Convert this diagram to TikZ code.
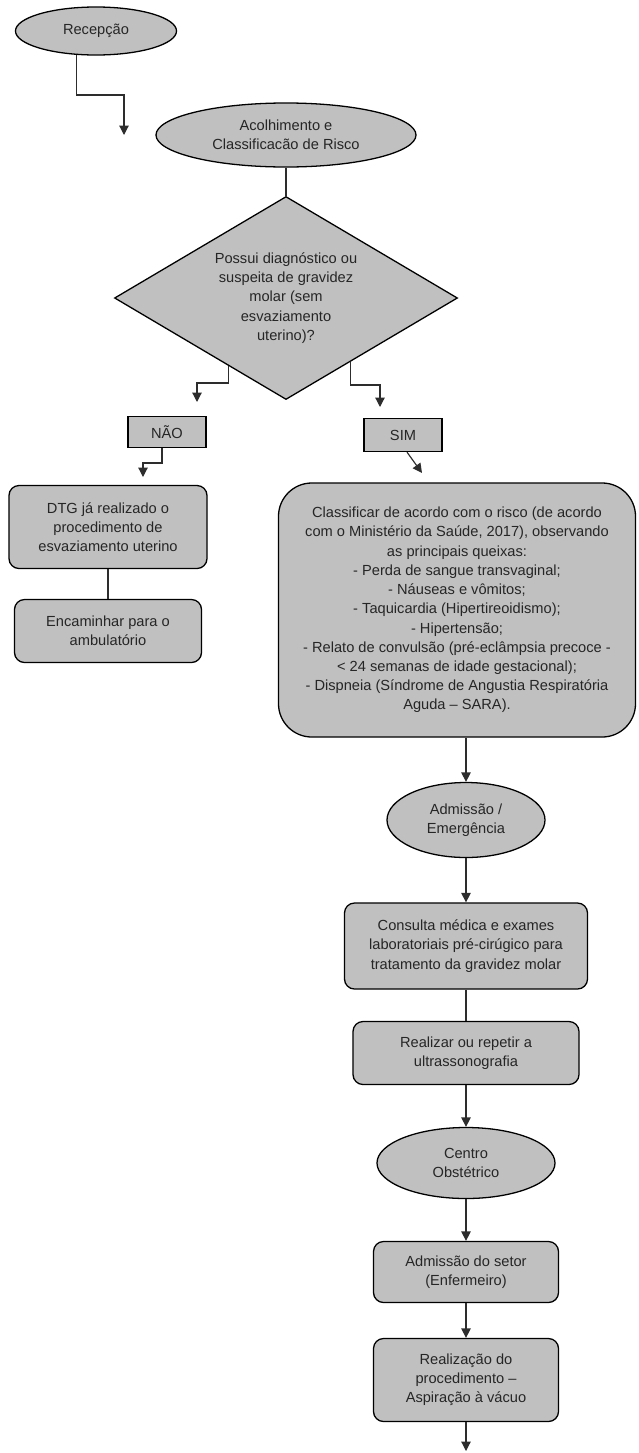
\documentclass[tikz,border=0pt]{standalone}
\usepackage{fontspec}
\setmainfont{Liberation Sans}
\usetikzlibrary{shapes.geometric,arrows.meta}
\definecolor{boxgray}{RGB}{192,192,192}
\definecolor{linegray}{RGB}{45,45,45}

\begin{document}
\begin{tikzpicture}[x=0.03cm,y=-0.03cm,
		>={Triangle[width=8pt,length=8pt]},
		every node/.style={font=\fontsize{12.5}{16.4}\selectfont,text=black!85,align=center},
		oval/.style={ellipse,draw,fill=boxgray,line width=1.1pt,inner sep=0pt},
		caixa/.style={rectangle,rounded corners=0.3cm,draw,fill=boxgray,line width=1.1pt,inner sep=0pt},
		rotulo/.style={rectangle,draw,fill=boxgray,line width=1.1pt,inner sep=0pt},
		decisao/.style={diamond,aspect=1.69,draw,fill=boxgray,line width=1.1pt,inner sep=0pt},
		seta/.style={line width=1pt,draw=linegray}]
			\useasboundingbox (0,0) rectangle (638,1453);

			\node[oval,minimum width=4.83cm,minimum height=1.44cm] (recepcao) at (96,31) {Recepção};
			\node[oval,minimum width=7.8cm,minimum height=1.92cm] (acolhimento) at (286,135) {Acolhimento e\\Classificacão de Risco};
			\node[decisao,minimum width=10.29cm,minimum height=6.09cm] (pergunta) at (286,298) {Possui diagnóstico ou\\suspeita de gravidez\\molar (sem\\esvaziamento\\uterino)?};
			\node[rotulo,minimum width=2.34cm,minimum height=0.93cm] (nao) at (167,432) {NÃO};
			\node[rotulo,minimum width=2.34cm,minimum height=0.99cm] (sim) at (403,435) {SIM};
			\node[caixa,minimum width=5.94cm,minimum height=2.49cm] (dtg) at (108,527) {DTG já realizado o\\procedimento de\\esvaziamento uterino};
			\node[caixa,minimum width=5.61cm,minimum height=1.89cm] (encaminhar) at (108,631) {Encaminhar para o\\ambulatório};
			\node[caixa,rounded corners=1cm,minimum width=10.71cm,minimum height=7.62cm] (classificar) at (457,610)
				{Classificar de acordo com o risco (de acordo\\com o Ministério da Saúde, 2017), observando\\as principais queixas:\\- Perda de sangue transvaginal;\\- Náuseas e vômitos;\\- Taquicardia (Hipertireoidismo);\\- Hipertensão;\\- Relato de convulsão (pré-eclâmpsia precoce -\\< 24 semanas de idade gestacional);\\- Dispneia (Síndrome de Angustia Respiratória\\Aguda – SARA).};
			\node[oval,minimum width=4.74cm,minimum height=2.25cm] (admissao) at (466,820) {Admissão /\\Emergência};
			\node[caixa,minimum width=7.29cm,minimum height=2.58cm] (consulta) at (466,946) {Consulta médica e exames\\laboratoriais pré-cirúgico para\\tratamento da gravidez molar};
			\node[caixa,minimum width=6.78cm,minimum height=1.89cm] (ultrassom) at (466,1053) {Realizar ou repetir a\\ultrassonografia};
			\node[oval,minimum width=5.34cm,minimum height=2.13cm] (centro) at (466,1163) {Centro\\Obstétrico};
			\node[caixa,minimum width=5.55cm,minimum height=1.83cm] (setor) at (466,1272) {Admissão do setor\\(Enfermeiro)};
			\node[caixa,minimum width=5.55cm,minimum height=2.49cm] (aspiracao) at (466,1380) {Realização do\\procedimento –\\Aspiração à vácuo};

			\coordinate (dobra1) at (124,95);
			\coordinate (ponta1) at (124,135);
			\coordinate (dobraNao) at (197,383);
			\coordinate (pontaNao) at (197,402);
			\coordinate (dobraSim) at (380,385);
			\coordinate (pontaSim) at (380,407);
			\coordinate (dobraDtg) at (143,463);
			\coordinate (pontaDtg) at (143,477);
			\coordinate (pontaClass) at (422,473);
			\coordinate (fim) at (466,1451);

			\draw[seta,->] (recepcao.231) |- (dobra1) -- (ponta1);
			\draw[seta] (acolhimento) -- (pergunta);
			\draw[seta,->] (pergunta.230) |- (dobraNao) -- (pontaNao);
			\draw[seta,->] (pergunta.315) |- (dobraSim) -- (pontaSim);
			\draw[seta,->] ([xshift=-0.15cm]nao.south) |- (dobraDtg) -- (pontaDtg);
			\draw[seta,->] ([xshift=0.12cm]sim.south) -- (pontaClass);
			\draw[seta] (dtg) -- (encaminhar);
			\draw[seta,->] (classificar.south -| admissao.north) -- (admissao.north);
			\draw[seta,->] (admissao) -- (consulta);
			\draw[seta] (consulta) -- (ultrassom);
			\draw[seta,->] (ultrassom) -- (centro);
			\draw[seta,->] (centro) -- (setor);
			\draw[seta,->] (setor) -- (aspiracao);
			\draw[seta,->] (aspiracao) -- (fim);
		\end{tikzpicture}
\end{document}
